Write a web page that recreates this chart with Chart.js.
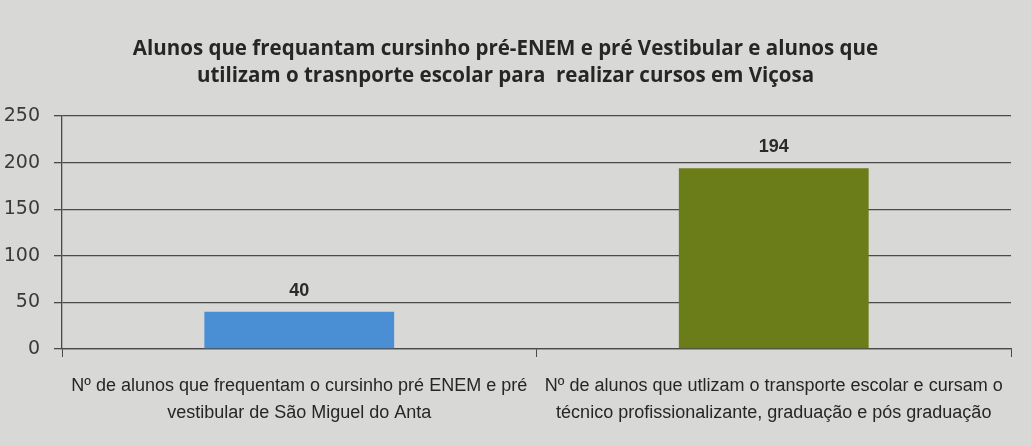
<!DOCTYPE html>
<html>
<head>
<meta charset="utf-8">
<script src="https://cdn.jsdelivr.net/npm/chart.js@4"></script>
<style>
  html, body { margin: 0; padding: 0; background: #d8d8d6; }
  #wrap { width: 1031px; height: 446px; }
</style>
</head>
<body>
<div id="wrap"><canvas id="chart" width="1031" height="446"></canvas></div>
<script>
// dados do grafico
const categorias = [
    ['Nº de alunos que frequentam o cursinho pré ENEM e pré', 'vestibular de São Miguel do Anta'],
    ['Nº de alunos que utlizam o transporte escolar e cursam o', 'técnico profissionalizante, graduação e pós graduação']
];
const valores = [40, 194];
const cores = ['#4a8ed4', '#6b7d18'];
const tituloLinhas = [
    'Alunos que frequantam cursinho pré-ENEM e pré Vestibular e alunos que',
    'utilizam o trasnporte escolar para  realizar cursos em Viçosa'
];

// rotulos de valor em cima das barras
const rotulos = {
    id: 'rotulos',
    afterDatasetsDraw(chart) {
        const ctx = chart.ctx;
        const meta = chart.getDatasetMeta(0);
        ctx.save();
        ctx.font = 'bold 18px "Liberation Sans", Arial, sans-serif';
        ctx.fillStyle = '#2a2a2a';
        ctx.textAlign = 'center';
        ctx.textBaseline = 'bottom';
        meta.data.forEach((bar, i) => {
            ctx.fillText(valores[i], bar.x, bar.y - 12);
        });
        ctx.restore();
    }
};

new Chart(document.getElementById('chart').getContext('2d'), {
    type: 'bar',
    data: {
        labels: categorias,
        datasets: [{
            data: valores,
            backgroundColor: cores,
            barPercentage: 0.8,
            categoryPercentage: 0.5
        }]
    },
    options: {
        responsive: false,
        animation: false,
        layout: { padding: { left: 0, right: 20, top: 0, bottom: 3 } },
        plugins: {
            legend: { display: false },
            tooltip: { enabled: false },
            title: {
                display: true,
                text: tituloLinhas,
                color: '#262626',
                font: { family: '"Open Sans", sans-serif', size: 20.5, weight: 'bold', lineHeight: 1.32 },
                padding: { top: 36, bottom: 26 }
            }
        },
        scales: {
            y: {
                min: 0, max: 250,
                ticks: {
                    stepSize: 50,
                    color: '#3a3a3a',
                    font: { family: '"DejaVu Sans", sans-serif', size: 19 },
                    padding: 14
                },
                grid: { color: '#4a4a4a', lineWidth: 1.3, tickLength: 8 },
                border: { color: '#4a4a4a', width: 1.3 },
                afterFit(scale) { scale.width = 62; }
            },
            x: {
                ticks: {
                    color: '#262626',
                    font: { family: '"Liberation Sans Narrow", "Liberation Sans", sans-serif', size: 18, lineHeight: 1.5 },
                    padding: 16,
                    maxRotation: 0
                },
                grid: { display: true, drawOnChartArea: false, color: '#4a4a4a', tickLength: 8, offset: true },
                border: { color: '#4a4a4a', width: 1.3 }
            }
        }
    },
    plugins: [rotulos]
});
</script>
</body>
</html>
